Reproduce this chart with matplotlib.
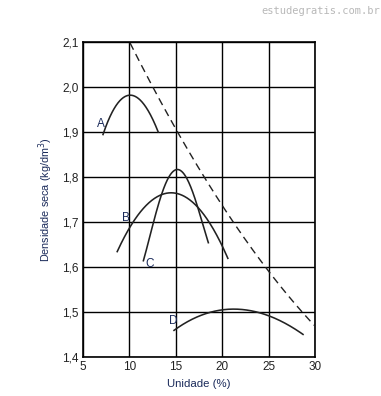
import matplotlib
matplotlib.use("Agg")
import matplotlib.pyplot as plt
import numpy as np

plt.rcParams['font.family'] = ['Liberation Sans', 'DejaVu Sans']

# Curve data (umidade %, densidade seca kg/dm3)
a_x = [7.15, 8.4, 10.3, 12.0, 13.1]
a_y = [1.896, 1.949, 1.988, 1.942, 1.902]
b_x = [8.68, 10.1, 12.2, 14.6, 17.3, 20.6]
b_y = [1.638, 1.682, 1.749, 1.767, 1.731, 1.620]
c_x = [11.5, 12.6, 13.3, 14.95, 16.6, 17.7, 18.5]
c_y = [1.616, 1.689, 1.764, 1.811, 1.778, 1.711, 1.653]
d_x = [14.8, 16.9, 19.05, 21.2, 24.1, 26.3, 28.7]
d_y = [1.460, 1.484, 1.500, 1.509, 1.498, 1.478, 1.451]
sat_x = [10.06, 15.0, 20.0, 25.0, 28.6, 29.9]
sat_y = [2.100, 1.900, 1.744, 1.587, 1.500, 1.471]

labels = ['A', 'B', 'C', 'D']
label_x = [6.9, 9.6, 12.2, 14.7]
label_y = [1.918, 1.709, 1.607, 1.480]

x_ticks = [5, 10, 15, 20, 25, 30]
y_ticks = [1.4, 1.5, 1.6, 1.7, 1.8, 1.9, 2.0, 2.1]
y_ticklabels = ['1,4', '1,5', '1,6', '1,7', '1,8', '1,9', '2,0', '2,1']

fig = plt.figure(figsize=(3.81, 3.96), dpi=100)
ax = fig.add_axes([0.218, 0.0985, 0.609, 0.7955])

def smooth(xs, ys, deg):
    p = np.polyfit(xs, ys, deg)
    xx = np.linspace(xs[0], xs[-1], 200)
    return xx, np.polyval(p, xx)

for xs, ys, deg in [(a_x, a_y, 3), (b_x, b_y, 3), (c_x, c_y, 4), (d_x, d_y, 3)]:
    xx, yy = smooth(xs, ys, deg)
    ax.plot(xx, yy, color='#222222', lw=1.15)

xx, yy = smooth(sat_x, sat_y, 2)
ax.plot(xx, yy, color='#222222', lw=1.0, dashes=(5.5, 3.5))

for t, lx, ly in zip(labels, label_x, label_y):
    ax.text(lx, ly, t, color='#1a2a5a', fontsize=8.5, ha='center', va='center')

ax.set_xlim(5, 30)
ax.set_ylim(1.4, 2.1)
ax.set_xticks(x_ticks)
ax.set_yticks(y_ticks)
ax.set_yticklabels(y_ticklabels)
ax.grid(True, color='black', lw=1.0)
ax.set_axisbelow(True)
for s in ax.spines.values():
    s.set_color('black')
    s.set_linewidth(1.2)
ax.tick_params(length=0, labelsize=8.5, colors='#222222', pad=3)
ax.set_xlabel('Unidade (%)', fontsize=8.2, color='#1a2a5a', labelpad=4)
ax.set_ylabel('Densidade seca (kg/dm$^3$)', fontsize=7.8, color='#1a2a5a', labelpad=5)

fig.text(0.997, 0.985, 'estudegratis.com.br', ha='right', va='top',
         fontsize=7.5, color='#b8b8b8', family='DejaVu Sans Mono')

fig.savefig('out.png', dpi=100)
